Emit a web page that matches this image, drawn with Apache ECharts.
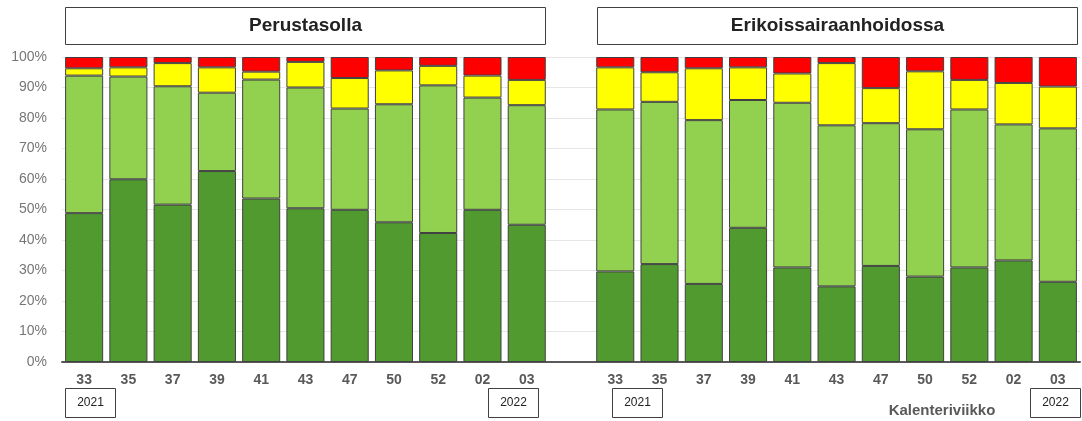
<!DOCTYPE html>
<html>
<head>
<meta charset="utf-8">
<script src="https://cdn.jsdelivr.net/npm/echarts@6/dist/echarts.min.js"></script>
<style>html,body{margin:0;padding:0;background:#fff}#c{width:1082px;height:421px}</style>
</head>
<body>
<div id="c"></div>
<script>
// Week labels (same for both panels)
var weeks = ['33','35','37','39','41','43','47','50','52','02','03'];
var yTicks = ['0%','10%','20%','30%','40%','50%','60%','70%','80%','90%','100%'];
// Perustasolla (percent shares)
var leftDark   = [48.8, 59.9, 51.6, 62.6, 53.6, 50.4, 49.9, 45.8, 42.3, 49.9, 45.0];
var leftLight  = [45.1, 33.7, 38.8, 25.7, 39.0, 39.6, 33.2, 38.7, 48.4, 36.8, 39.2];
var leftYellow = [ 2.4,  3.0,  7.6,  8.3,  2.6,  8.4, 10.0, 11.1,  6.4,  7.2,  8.3];
var leftRed    = [ 3.7,  3.4,  2.0,  3.4,  4.8,  1.6,  6.9,  4.4,  2.9,  6.1,  7.5];
// Erikoissairaanhoidossa (percent shares)
var rightDark   = [29.7, 32.1, 25.6, 44.0, 31.0, 24.8, 31.5, 28.0, 31.0, 33.3, 26.3];
var rightLight  = [53.1, 53.2, 53.7, 41.9, 54.0, 52.8, 46.8, 48.3, 51.8, 44.6, 50.3];
var rightYellow = [13.8,  9.7, 17.0, 10.7,  9.6, 20.4, 11.5, 19.0,  9.7, 13.6, 13.7];
var rightRed    = [ 3.4,  5.0,  3.7,  3.4,  5.4,  2.0, 10.2,  4.7,  7.5,  8.5,  9.7];

var cats = weeks.map(function(w){return 'L'+w;}).concat(['gap']).concat(weeks.map(function(w){return 'R'+w;}));
function join(a, b){ return a.concat(['-']).concat(b); }

var colors = ['#519A2F', '#92D050', '#FFFF00', '#FF0000'];
var sets = [[leftDark, rightDark],[leftLight, rightLight],[leftYellow, rightYellow],[leftRed, rightRed]];
var series = sets.map(function(s, i){
  return {
    type: 'bar', stack: 'all', barCategoryGap: '14%',
    data: join(s[0], s[1]),
    itemStyle: {color: colors[i], borderColor: '#404040', borderWidth: 1},
    emphasis: {disabled: true}
  };
});

var chart = echarts.init(document.getElementById('c'), null, {renderer: 'canvas'});
var F = '"Liberation Sans", Arial, sans-serif';
function box(x, y, w, h, text, size, bold){
  return [
    {type:'rect', shape:{x:x, y:y, width:w, height:h}, style:{fill:'#fff', stroke:'#404040', lineWidth:1}, z:10},
    {type:'text', x:x+w/2, y:y+h/2, style:{text:text, fill:'#222', font:(bold?'bold ':'')+size+'px '+F, textAlign:'center', textVerticalAlign:'middle'}, z:11}
  ];
}
var graphics = [].concat(
  box(65.5, 7.5, 480, 37, 'Perustasolla', 19, true),
  box(597.5, 7.5, 480, 37, 'Erikoissairaanhoidossa', 19, true),
  box(65.5, 388.5, 50, 29, '2021', 12, false),
  box(488.5, 388.5, 50, 29, '2022', 12, false),
  box(612.5, 388.5, 50, 29, '2021', 12, false),
  box(1030.5, 388.5, 50, 29, '2022', 12, false),
  [{type:'text', x:942, y:411, style:{text:'Kalenteriviikko', fill:'#595959', font:'bold 15px '+F, textAlign:'center', textVerticalAlign:'middle'}, z:11}]
);

chart.setOption({
  animation: false,
  grid: {left: 62, right: 2, top: 57, bottom: 59},
  xAxis: {
    type: 'category', data: cats,
    axisLine: {lineStyle: {color: '#595959', width: 2}},
    axisTick: {show: false},
    axisLabel: {
      color: '#595959', fontFamily: F, fontWeight: 'bold', fontSize: 14, margin: 11, interval: 0,
      formatter: function(v){ return v === 'gap' ? '' : v.slice(1); }
    }
  },
  yAxis: {
    type: 'value', min: 0, max: 100, interval: 10,
    axisLine: {show: false}, axisTick: {show: false},
    splitLine: {lineStyle: {color: '#E6E6E6', width: 1}},
    axisLabel: {color: '#767676', fontFamily: F, fontSize: 14, margin: 15,
      formatter: function(v){ return yTicks[Math.round(v/10)]; }}
  },
  series: series,
  graphic: graphics
});
</script>
</body>
</html>
